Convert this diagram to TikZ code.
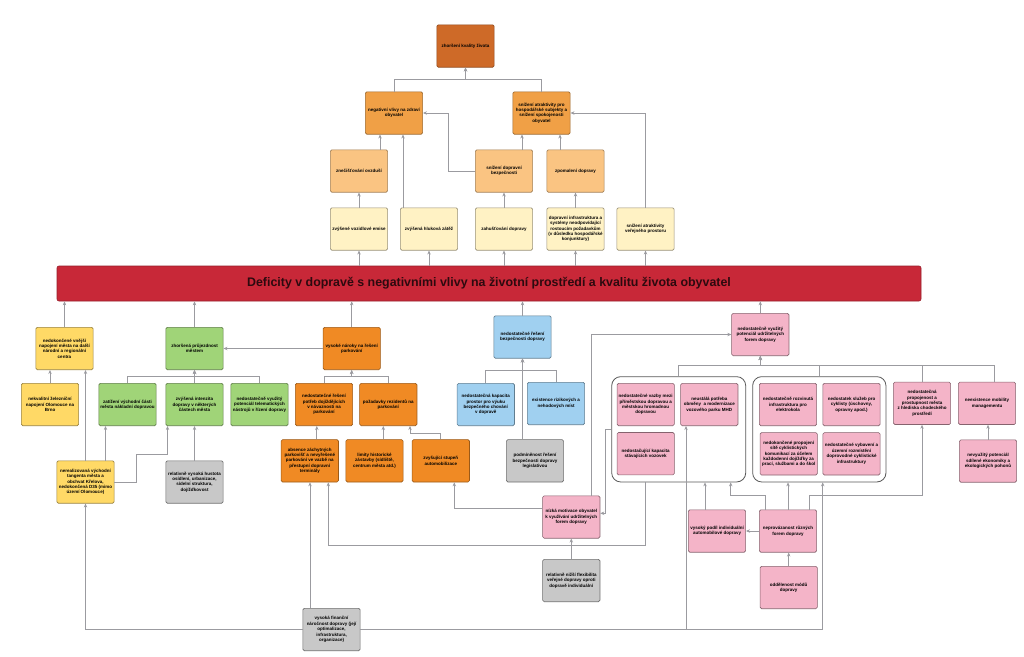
\documentclass[tikz,border=0pt]{standalone}
\usepackage{fontspec}
\setmainfont{Liberation Sans}
\usetikzlibrary{arrows.meta,calc}
\definecolor{cTop}{RGB}{206,106,40}
\definecolor{cOr}{RGB}{240,160,70}
\definecolor{cLo}{RGB}{250,196,130}
\definecolor{cPa}{RGB}{255,242,196}
\definecolor{cRed}{RGB}{200,40,56}
\definecolor{cYel}{RGB}{255,217,102}
\definecolor{cGrn}{RGB}{160,212,120}
\definecolor{cOrb}{RGB}{240,138,36}
\definecolor{cBlu}{RGB}{160,208,240}
\definecolor{cGry}{RGB}{200,200,200}
\definecolor{cPnk}{RGB}{244,180,200}
\definecolor{cLine}{RGB}{155,155,160}
\definecolor{cBanText}{RGB}{45,10,15}
\hyphenpenalty=10000
\exhyphenpenalty=10000
\tikzset{
  box/.style={rectangle, rounded corners=1.5pt, minimum width=57.3pt, minimum height=42.4pt,
    text width=54.3pt, align=flush center, inner sep=0.6pt, line width=0.6pt, text=black,
    font=\fontsize{4.5}{5.4}\selectfont\bfseries},
  bTop/.style={box, fill=cTop, draw=cTop!70!black},
  bOr/.style={box, fill=cOr, draw=cOr!65!black},
  bLo/.style={box, fill=cLo, draw=cLo!65!black},
  bPa/.style={box, fill=cPa, draw=cPa!60!black},
  bYel/.style={box, fill=cYel, draw=cYel!60!black},
  bGrn/.style={box, fill=cGrn, draw=cGrn!60!black},
  bOrb/.style={box, fill=cOrb, draw=cOrb!65!black},
  bBlu/.style={box, fill=cBlu, draw=cBlu!60!black},
  bGry/.style={box, fill=cGry, draw=cGry!55!black},
  bPnk/.style={box, fill=cPnk, draw=cPnk!55!black},
  frame/.style={rectangle, rounded corners=9pt, draw=black!65, line width=0.8pt, inner sep=0pt},
  arr/.style={draw=cLine, line width=0.8pt, -{Stealth[length=4pt,width=3.4pt]}},
}
\begin{document}
\begin{tikzpicture}[x=1pt,y=-1pt]
\fill[white] (0,0) rectangle (1024,656);
\useasboundingbox (0,0) rectangle (1024,656);

% ---------- top tree ----------
\node[bTop] (A) at (465.5,46) {zhoršení kvality života};
\node[bOr] (B) at (394,113) {negativní vlivy na zdraví obyvatel};
\node[bOr] (C) at (541.5,113) {snížení atraktivity pro hospodářské subjekty a snížení spokojenosti obyvatel};
\node[bLo] (D) at (359,171) {znečišťování ovzduší};
\node[bLo] (E) at (504,171) {snížení dopravní bezpečnosti};
\node[bLo] (F) at (575.5,171) {zpomalení dopravy};
\node[bPa] (G) at (359,229) {zvýšené vozidlové emise};
\node[bPa] (H) at (429,229) {zvýšená hluková zátěž};
\node[bPa] (I) at (504,229) {zahušťování dopravy};
\node[bPa] (J) at (575.5,229) {dopravní infrastruktura a systémy neodpovídající rostoucím požadavkům (v~důsledku hospodářské konjunktury)};
\node[bPa] (K) at (645.5,229) {snížení atraktivity veřejného prostoru};

% ---------- banner ----------
\node[rectangle, rounded corners=2pt, fill=cRed, draw=cRed!75!black, line width=0.6pt,
  minimum width=864pt, minimum height=35pt, inner sep=0pt, text=cBanText,
  font=\fontsize{12.4}{14}\selectfont\bfseries] (ban) at (489,283.5)
  {Deficity v dopravě s negativními vlivy na životní prostředí a kvalitu života obyvatel};

% ---------- lower nodes ----------
\node[bYel] (L) at (64.5,348.5) {nedokončené vnější napojení města na další národní a regionální centra};
\node[bGrn] (M) at (194.5,348.5) {zhoršená průjezdnost městem};
\node[bOrb] (N) at (351.7,348.5) {vysoké nároky na řešení parkování};
\node[bBlu] (O) at (522.5,337) {nedostatečné řešení bezpečnosti dopravy};
\node[bPnk] (P) at (760.3,334.5) {nedostatečně využitý potenciál udržitelných forem dopravy};

\node[bYel] (Q) at (50,404.5) {nekvalitní železniční napojení Olomouce na Brno};
\node[bGrn] (R) at (127.5,404.5) {zatížení východní části města nákladní dopravou};
\node[bGrn] (S) at (194.5,404.5) {zvýšená intenzita dopravy v~některých částech města};
\node[bGrn] (T) at (259.5,404.5) {nedostatečně využitý potenciál telematických nástrojů v~řízení dopravy};
\node[bOrb] (U) at (324,404.5) {nedostatečné řešení potřeb dojíždějících v~návaznosti na parkování};
\node[bOrb] (V) at (388.3,404.5) {požadavky rezidentů na parkování};
\node[bBlu] (W) at (485.8,404.5) {nedostatečná kapacita prostor pro výuku bezpečného chování v~dopravě};
\node[bBlu] (X) at (556,403.5) {existence rizikových a nehodových míst};

\node[bYel] (Y) at (85.5,482) {nerealizovaná východní tangenta města a obchvat Křelova, nedokončená D35 (mimo území Olomouce)};
\node[bGry] (Z) at (194.5,482) {relativně vysoká hustota osídlení, urbanizace, sídelní struktura, dojížďkovost};
\node[bOrb] (AA) at (309.8,460.8) {absence záchytných parkovišť a nevyřešené parkování ve vazbě na přestupní dopravní terminály};
\node[bOrb] (AB) at (374.5,460.8) {limity historické zástavby (sídliště, centrum města atd.)};
\node[bOrb] (AC) at (440.8,460.8) {zvyšující stupeň automobilizace};
\node[bGry] (AD) at (535,460.8) {podmíněnost řešení bezpečnosti dopravy legislativou};

% pink groups
\node[frame, minimum width=134pt, minimum height=105.3pt] (FL) at (678.7,429.3) {};
\node[frame, minimum width=133.3pt, minimum height=105.3pt] (FR) at (819.3,429.3) {};
\node[bPnk] (PA) at (645.7,404.5) {nedostatečné vazby mezi příměstskou dopravou a městskou hromadnou dopravou};
\node[bPnk] (PB) at (709.3,404.5) {neustálá potřeba obměny \ a modernizace vozového parku MHD};
\node[bPnk] (PC) at (645.7,453.7) {nedostačující kapacita stávajících vozovek};
\node[bPnk] (PD) at (788,404.5) {nedostatečně rozvinutá infrastruktura pro elektrokola};
\node[bPnk] (PE) at (851.5,404.5) {nedostatek služeb pro cyklisty (úschovny, opravny apod.)};
\node[bPnk] (PF) at (788.7,453.8) {nedokončené propojení sítě cyklistických komunikací za účelem každodenní dojížďky za prací, službami a do škol};
\node[bPnk] (PG) at (851.5,453.8) {nedostatečné vybavení a územní rozmístění doprovodné cyklistické infrastruktury};
\node[bPnk] (PH) at (922,403.3) {nedostatečná propojenost a prostupnost města z~hlediska chodeckého prostředí};
\node[bPnk] (PI) at (987,403.3) {neexistence mobility managementu};
\node[bPnk] (PJ) at (988,461) {nevyužitý potenciál sdílené ekonomiky a ekologických pohonů};
\node[bPnk] (PK) at (571.3,517) {nízká motivace obyvatel k~využívání udržitelných forem dopravy};
\node[bPnk] (PL) at (717,531) {vysoký podíl individuální automobilové dopravy};
\node[bPnk] (PM) at (788,531) {neprovázanost různých forem dopravy};
\node[bPnk] (PN) at (788.7,587.5) {oddělenost módů dopravy};
\node[bGry] (GA) at (571.3,580.5) {relativně nižší flexibilita veřejné dopravy oproti dopravě individuální};
\node[bGry] (GB) at (331.5,629.5) {vysoká finanční náročnost dopravy (její optimalizace, infrastruktura, organizace)};

% ---------- connectors: top ----------
\draw[arr] (B.north) -- ++(0,-12) -| (A.south);
\draw[arr] (C.north) -- ++(0,-12) -| (A.south);
\draw[arr] ($(D.north)+(21,0)$) -- ($(B.south)+(-14,0)$);
\draw[arr] (G.north) -- (D.south);
\draw[arr] ($(H.north)+(-26,0)$) -- ($(B.south)+(9,0)$);
\draw[arr] (E.west) -- ++(-27,0) |- (B.east);
\draw[arr] (I.north) -- (E.south);
\draw[arr] ($(E.north)+(18,0)$) -- ($(C.south)+(-19.5,0)$);
\draw[arr] ($(F.north)+(-15.5,0)$) -- ($(C.south)+(18.5,0)$);
\draw[arr] (J.north) -- (F.south);
\draw[arr] (K.north) |- (C.east);
\foreach \n in {G,H,I,J,K} \draw[arr] (ban.north -| \n.south) -- (\n.south);

% ---------- connectors: lower ----------
\foreach \n in {L,M,N,O,P} \draw[arr] (\n.north) -- (\n.north |- ban.south);
\draw[arr] (Q.north) -- (Q.north |- L.south);
\draw[arr] (Y.north) -- (Y.north |- L.south);
\draw[arr] ($(Y.north)+(20,0)$) -- ($(R.south)+(-22,0)$);
\draw[arr] (Y.east) -- ++(22.4,0) -- ++(0,-28) -| ($(S.south)+(-27,0)$);
\draw[arr] (Z.north) -- (S.south);
\draw[arr] (R.north) -- ++(0,-6.7) -| (M.south);
\draw[arr] (T.north) -- ++(0,-6.7) -| (M.south);
\draw[arr] (S.north) -- (M.south);
\draw[arr] (N.west) -- (M.east);
\draw[arr] (U.north) -- ++(0,-6.7) -| (N.south);
\draw[arr] (V.north) -- ++(0,-6.7) -| (N.south);
\draw[arr] ($(AA.north)+(7,0)$) -- ($(U.south)+(-7.2,0)$);
\draw[arr] ($(AB.north)+(8.8,0)$) -- ($(V.south)+(-5,0)$);
\draw[arr] (AC.north) -- ++(0,-6) -| ($(V.south)+(21.7,0)$);
\draw[arr] (W.north) -- ++(0,-12.3) -| (O.south);
\draw[arr] (X.north) -- ++(0,-11.3) -| (O.south);
\draw[arr] ($(AD.north)+(-12.5,0)$) -- (O.south);

% pink cluster
\draw[arr] (FL.north) -- ++(0,-10.7) -| (P.south);
\draw[arr] (FR.north) -- ++(0,-10.7) -| (P.south);
\draw[arr] (PH.north) -- ++(0,-16.3) -| (P.south);
\draw[arr] ($(PI.north)+(7.3,0)$) -- ++(0,-16.3) -| (P.south);
\draw[arr] (PJ.north) -- (PJ.north |- PI.south);
\draw[arr] ($(PK.north)+(20.4,0)$) |- (P.west);
\draw[arr] (FL.west) -- ++(-5.7,0) |- ($(PK.east)+(0,-3.7)$);
\draw[arr] ($(FL.south)+(-33.7,0)$) -- ++(0,63) -| ($(AA.south)+(18.5,0)$);
\draw[arr] ($(PK.west)+(0,-8.7)$) -| ($(AC.south)+(13.5,0)$);
\draw[arr] (GA.north) -- (PK.south);
\draw[arr] ($(GB.north)+(-21.5,0)$) -- ($(AA.south)+(0.2,0)$);
\draw[arr] (GB.west) -| (Y.south);
\draw[arr] (GB.east) -| ($(PB.south)+(-23.3,0)$);
\draw[arr] (GB.east) -| ($(FR.south)+(3.4,0)$);
\draw[arr] ($(PL.north)+(-12,0)$) -- ($(FL.south)+(26.3,0)$);
\draw[arr] ($(PM.north)+(-22.3,0)$) -- ++(0,-14.3) -| ($(FL.south)+(52,0)$);
\draw[arr] (PM.north) -- (PM.north |- FR.south);
\draw[arr] ($(PM.north)+(21.3,0)$) -- ++(0,-14.3) -| (PH.south);
\draw[arr] (PM.west) -- (PL.east);
\draw[arr] (PN.north) -- (PN.north |- PM.south);
\end{tikzpicture}
\end{document}
